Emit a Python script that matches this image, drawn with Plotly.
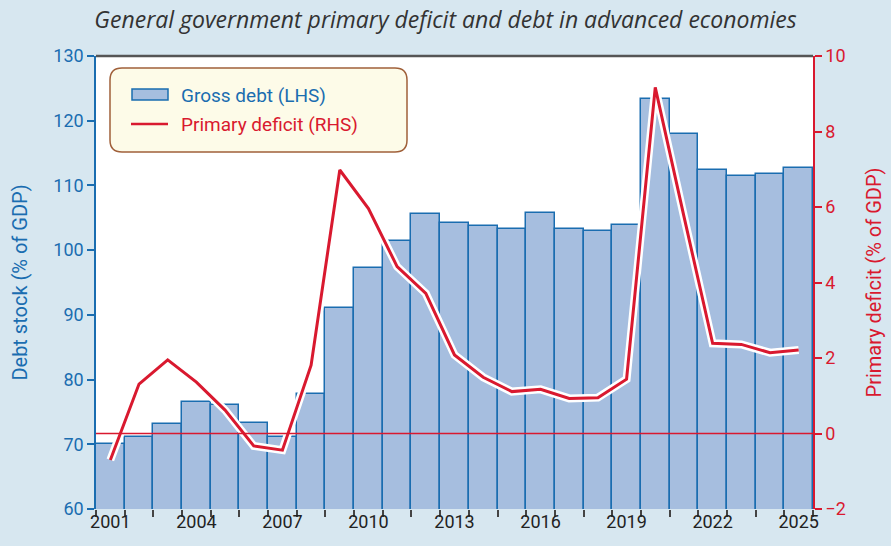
import plotly.graph_objects as go

years = list(range(2001, 2026))
gross_debt = [70.1, 71.1, 73.2, 76.6, 76.1, 73.3, 71.1, 77.7, 91.0, 97.3, 101.4, 105.6,
              104.2, 103.7, 103.3, 105.8, 103.3, 102.9, 103.9, 123.3, 118.0, 112.4,
              111.4, 111.8, 112.7]
primary_deficit = [-0.70, 1.31, 1.95, 1.36, 0.62, -0.33, -0.44, 1.81, 6.98, 5.96, 4.42,
                   3.71, 2.08, 1.49, 1.11, 1.17, 0.93, 0.95, 1.44, 9.17, 5.75, 2.39,
                   2.36, 2.14, 2.21]
tick_years = [2001, 2004, 2007, 2010, 2013, 2016, 2019, 2022, 2025]

BLUE = "#1a6db0"
RED = "#d9192f"
BG = "#d7e7f0"
FONT = "Roboto, Liberation Sans, sans-serif"

W, H = 891, 546
L, R, T, B = 96, 78, 56, 37
pw, ph = W - L - R, H - T - B

def px(x):
    return (x - L) / pw

def py(y):
    return (H - B - y) / ph

fig = go.Figure()
fig.add_trace(go.Bar(
    x=years, y=gross_debt, name="Gross debt (LHS)",
    marker=dict(color="#a6bedf", line=dict(color=BLUE, width=1.5)),
    yaxis="y", showlegend=False,
))
fig.add_trace(go.Scatter(
    x=years, y=primary_deficit, yaxis="y2", mode="lines",
    line=dict(color="white", width=8), showlegend=False, hoverinfo="skip",
))
fig.add_trace(go.Scatter(
    x=years, y=primary_deficit, yaxis="y2", mode="lines",
    name="Primary deficit (RHS)", showlegend=False,
    line=dict(color=RED, width=3),
))

# rounded legend box
x0, x1 = px(110), px(407)
y0, y1 = py(152), py(68)
rx, ry = 12 / pw, 12 / ph
path = (f"M {x0+rx},{y1} L {x1-rx},{y1} Q {x1},{y1} {x1},{y1-ry} "
        f"L {x1},{y0+ry} Q {x1},{y0} {x1-rx},{y0} L {x0+rx},{y0} "
        f"Q {x0},{y0} {x0},{y0+ry} L {x0},{y1-ry} Q {x0},{y1} {x0+rx},{y1} Z")

shapes = [
    dict(type="line", xref="paper", yref="y2", x0=0, x1=1, y0=0, y1=0,
         line=dict(color=RED, width=1.3), layer="above"),
    dict(type="line", xref="paper", yref="paper", x0=0, x1=1, y0=1, y1=1,
         line=dict(color="#555555", width=2.5), layer="above"),
    dict(type="path", xref="paper", yref="paper", path=path,
         fillcolor="#fdfbe8", line=dict(color="#a0603a", width=1.5), layer="above"),
    dict(type="rect", xref="paper", yref="paper", x0=px(132), x1=px(168),
         y0=py(100), y1=py(89), fillcolor="#a6bedf",
         line=dict(color=BLUE, width=1.5), layer="above"),
    dict(type="line", xref="paper", yref="paper", x0=px(131), x1=px(168),
         y0=py(124), y1=py(124), line=dict(color=RED, width=2.5), layer="above"),
]

annotations = [
    dict(text="Gross debt (LHS)", xref="paper", yref="paper", x=px(179), y=py(95),
         xanchor="left", yanchor="middle", showarrow=False,
         font=dict(family=FONT, size=19, color=BLUE)),
    dict(text="Primary deficit (RHS)", xref="paper", yref="paper", x=px(179), y=py(124),
         xanchor="left", yanchor="middle", showarrow=False,
         font=dict(family=FONT, size=19, color=RED)),
]

fig.update_layout(
    width=W, height=H,
    margin=dict(l=L, r=R, t=T, b=B, autoexpand=False),
    paper_bgcolor=BG, plot_bgcolor="white",
    bargap=0, showlegend=False,
    title=dict(text="General government primary deficit and debt in advanced economies",
               x=0.5, xanchor="center", y=0.963, yanchor="middle",
               font=dict(family="Liberation Sans Narrow, Open Sans, sans-serif", size=23,
                         color="#333333", style="italic")),
    xaxis=dict(range=[2000.5, 2025.5], tickvals=tick_years, ticks="", automargin=False,
               showgrid=False, zeroline=False, showline=False,
               tickfont=dict(family=FONT, size=18, color="#222222"),
               minor=dict(tickvals=[y - 0.5 for y in years] + [2025.5], ticks="outside",
                          ticklen=7, tickcolor="#444444", tickwidth=1.5, showgrid=False)),
    yaxis=dict(range=[60, 130], dtick=10, ticks="outside", ticklen=7, tickcolor=BLUE,
               tickwidth=1.5, showline=True, linecolor=BLUE, linewidth=1.5,
               showgrid=False, zeroline=False, automargin=False,
               tickfont=dict(family=FONT, size=18, color=BLUE),
               title=dict(text="Debt stock (% of GDP)", standoff=20,
                          font=dict(family=FONT, size=20, color=BLUE))),
    yaxis2=dict(range=[-2, 10], dtick=2, overlaying="y", side="right", ticks="outside",
                ticklen=7, tickcolor=RED, tickwidth=1.5, showline=True, linecolor=RED,
                linewidth=1.5, showgrid=False, zeroline=False, automargin=False,
                tickfont=dict(family=FONT, size=18, color=RED),
                title=dict(text="Primary deficit (% of GDP)", standoff=22,
                           font=dict(family=FONT, size=20, color=RED))),
    shapes=shapes,
    annotations=annotations,
)

fig.write_html("out.html", config={"displayModeBar": False},
               post_script="document.body.style.margin='0';document.body.style.padding='0';")
